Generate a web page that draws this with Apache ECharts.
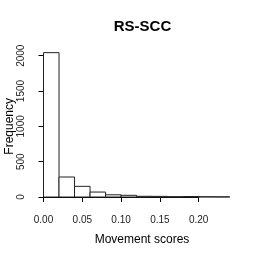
<!DOCTYPE html>
<html><head><meta charset="utf-8">
<script src="https://cdn.jsdelivr.net/npm/echarts@6/dist/echarts.min.js"></script>
<style>html,body{margin:0;padding:0;background:#fff}#c{width:273px;height:262px}</style>
</head><body><div id="c"></div>
<script>
const binStarts = [0.00,0.02,0.04,0.06,0.08,0.10,0.12,0.14,0.16,0.18,0.20,0.22];
const binWidth = 0.02;
const counts = [2043,283,151,70,31,24,10,9,4,7,4,2];
const xTicks = [0, 0.2, 0.05];
const yTicks = [0, 2000, 500];
const data = binStarts.map((s,i)=>[s, s+binWidth, counts[i]]);
const chart = echarts.init(document.getElementById('c'), null, {renderer:'canvas'});
const font = 'Liberation Sans, Arial, Helvetica, sans-serif';
chart.setOption({
  animation:false,
  backgroundColor:'#fff',
  title:[
    {text:'RS-SCC', left:137.5, top:14, textAlign:'center',
     textStyle:{fontFamily:font, fontSize:15, fontWeight:'bold', color:'#000'}},
    {text:'Movement scores', left:137, top:229, textAlign:'center',
     textStyle:{fontFamily:font, fontSize:12, fontWeight:'normal', color:'#000'}}
  ],
  grid:{left:43.5, top:55.7, width:155.2, height:141.3, containLabel:false, outerBoundsMode:'none'},
  xAxis:{type:'value', min:xTicks[0], max:xTicks[1], interval:xTicks[2], offset:6,
    axisLine:{show:true, lineStyle:{color:'#000', width:1}},
    axisTick:{show:true, length:5, lineStyle:{color:'#000'}},
    axisLabel:{fontFamily:font, fontSize:10, color:'#222', margin:12,
      formatter:v=>v.toFixed(2)},
    splitLine:{show:false}},
  yAxis:{type:'value', min:yTicks[0], max:yTicks[1], interval:yTicks[2], offset:7.5,
    name:'Frequency', nameLocation:'middle', nameGap:20, nameRotate:90, nameMoveOverlap:false,
    nameTextStyle:{fontFamily:font, fontSize:12, color:'#000'},
    axisLine:{show:true, lineStyle:{color:'#000', width:1}},
    axisTick:{show:true, length:5, lineStyle:{color:'#000'}},
    axisLabel:{fontFamily:font, fontSize:10, color:'#222', rotate:90, margin:10,
      formatter:v=>String(v)},
    splitLine:{show:false}},
  series:[{
    type:'custom', clip:false, data:data,
    encode:{x:[0,1], y:2},
    renderItem:function(params, api){
      const p0 = api.coord([api.value(0), 0]);
      const p1 = api.coord([api.value(1), api.value(2)]);
      return {type:'rect',
        shape:{x:p0[0], y:p1[1], width:p1[0]-p0[0], height:p0[1]-p1[1]},
        style:{fill:'#fff', stroke:'#222', lineWidth:1}};
    }
  }]
});
</script></body></html>
